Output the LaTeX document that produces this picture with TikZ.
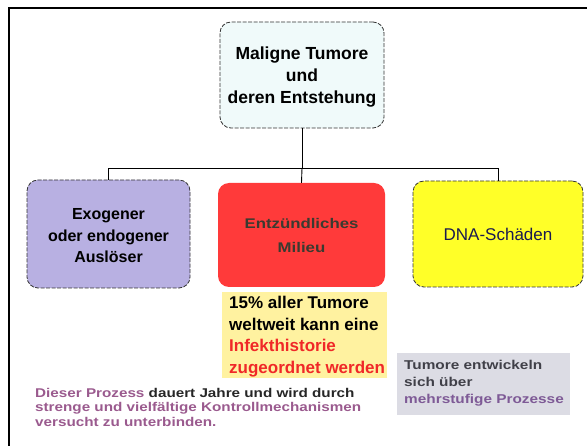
\documentclass[tikz,border=0pt]{standalone}
\usepackage{fontspec}
\setmainfont{Liberation Sans}
\newfontfamily\widefont[FakeStretch=1.2]{Liberation Sans}
\usetikzlibrary{positioning}
\definecolor{topfill}{HTML}{F0FAFA}
\definecolor{lavender}{HTML}{B8B0E2}
\definecolor{redbox}{HTML}{FF3A3A}
\definecolor{yellowbox}{HTML}{FFFF28}
\definecolor{notey}{HTML}{FFF2A0}
\definecolor{noteg}{HTML}{DCDCE4}
\definecolor{midtext}{HTML}{3A3A30}
\definecolor{navy}{HTML}{1A1A50}
\definecolor{purp}{HTML}{9A5A8E}
\definecolor{purp2}{HTML}{7E5A96}
\definecolor{dgray}{HTML}{404048}
\definecolor{redtxt}{HTML}{F02828}
\tikzset{
  box/.style={rounded corners=11pt, inner sep=0pt, align=center},
  dashbox/.style={box, draw=black!80, dashed, dash pattern=on 4pt off 1.5pt, line width=0.8pt},
  note/.style={inner sep=0pt, align=left, anchor=north west},
  conn/.style={draw=black, line width=0.9pt},
  frame/.style={draw=black, line width=1.4pt}
}
\begin{document}
\begin{tikzpicture}[x=1pt,y=-1pt]
\useasboundingbox (0,0) rectangle (587,446);
% frame
\coordinate (f1) at (9,446);
\coordinate (f2) at (9,8);
\coordinate (f3) at (587,8);
\draw[frame] (f1) -- (f2) -- (f3);
% boxes
\node[dashbox, fill=topfill, minimum width=164pt, minimum height=106pt] (top) at (302,75) {};
\node[align=center, inner sep=0pt, font=\fontsize{17.5}{22}\selectfont\bfseries] (toptext) at (302,77)
  {Maligne Tumore\\und\\deren Entstehung};
\node[dashbox, fill=lavender, minimum width=163pt, minimum height=108pt] (left) at (108.5,234) {};
\node[align=center, inner sep=0pt, font=\fontsize{16}{21.5}\selectfont\bfseries] (lefttext) at (108.5,236)
  {Exogener\\oder endogener\\Auslöser};
\node[box, fill=redbox, minimum width=167pt, minimum height=104pt,
  text=midtext, font=\widefont\fontsize{14}{24}\selectfont\bfseries] (mid) at (301.5,235)
  {Entzündliches\\Milieu};
\node[dashbox, fill=yellowbox, minimum width=170pt, minimum height=106pt,
  text=navy, font=\fontsize{17}{22}\selectfont] (right) at (498,234)
  {DNA-Schäden};
% connectors
\coordinate (bus) at (302,168);
\draw[conn] (top.south) -- (bus);
\draw[conn] (bus) -- (mid.north);
\draw[conn] (left.north) |- (bus);
\draw[conn] (right.north) |- (bus);
% notes
\node[fill=notey, minimum width=165pt, minimum height=86pt, inner sep=0pt] (ny) at (304.5,335) {};
\node[note, font=\fontsize{17}{21.5}\selectfont\bfseries] (nyt) at (229,296)
  {15\% aller Tumore\\weltweit kann eine\\\textcolor{redtxt}{Infekthistorie}\\\textcolor{redtxt}{zugeordnet werden}};
\node[fill=noteg, minimum width=173pt, minimum height=62pt, inner sep=0pt] (ng) at (483.5,384) {};
\node[note, text=dgray, font=\widefont\fontsize{12.8}{17}\selectfont\bfseries] (ngt) at (404,360)
  {Tumore entwickeln\\sich über\\\textcolor{purp2}{mehrstufige Prozesse}};
\node[note, text=purp, font=\widefont\fontsize{12.7}{14.5}\selectfont\bfseries] (bt) at (35,388)
  {Dieser Prozess \textcolor{black!85}{dauert Jahre und wird durch}\\strenge und vielfältige Kontrollmechanismen\\versucht zu unterbinden.};
\end{tikzpicture}
\end{document}
